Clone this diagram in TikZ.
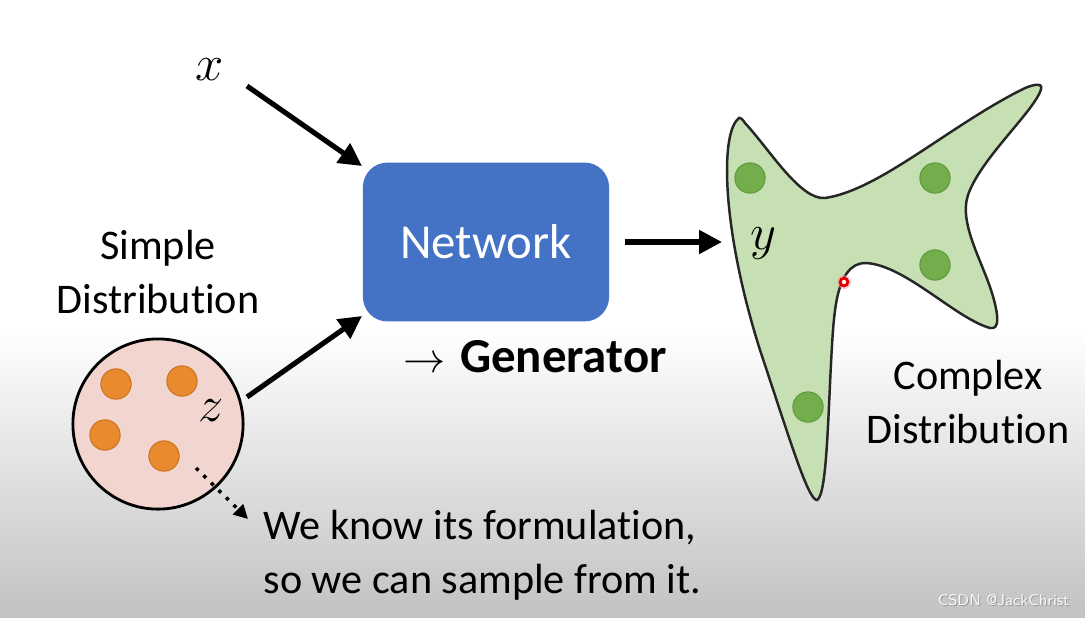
\documentclass[tikz,border=0pt]{standalone}
\usepackage{fontspec}
\setmainfont{Carlito}[Ligatures=NoCommon]
\usetikzlibrary{arrows.meta}
\definecolor{netblue}{HTML}{4472C4}
\definecolor{pinkfill}{HTML}{F2D5CF}
\definecolor{orangedot}{HTML}{E98A2E}
\definecolor{orangeedge}{HTML}{C9731F}
\definecolor{greenfill}{HTML}{C6E0B4}
\definecolor{greendot}{HTML}{74AD4C}
\definecolor{greenedge}{HTML}{5E9A3C}
\definecolor{bggray}{HTML}{C2C2C2}
\begin{document}
\begin{tikzpicture}[x=0.01cm,y=-0.01cm,
  bigarrow/.style={line width=1.45pt,-{Triangle[length=6.5pt,width=6.5pt]}},
  lbl/.style={font=\fontsize{12}{14}\selectfont,align=center,inner sep=0pt},
  odot/.style={circle,fill=orangedot,draw=orangeedge,line width=0.3pt,minimum size=8.6pt,inner sep=0pt},
  gdot/.style={circle,fill=greendot,draw=greenedge,line width=0.3pt,minimum size=8.6pt,inner sep=0pt},
  mlbl/.style={font=\fontsize{14}{16}\selectfont,inner sep=0pt}]
% background
\fill[white] (0,0) rectangle (1085,330);
\shade[top color=white,bottom color=bggray] (0,329) rectangle (1085,617);
\useasboundingbox (0,0) rectangle (1085,617);

% network
\node[draw=none,fill=netblue,rounded corners=7pt,minimum width=70pt,minimum height=45.2pt,
  text=white,font=\fontsize{13.9}{16}\selectfont] (net) at (486,242) {Network};
\node[font=\fontsize{13.9}{16}\selectfont\bfseries,inner sep=0pt] (gen) at (535,357) {{\fontsize{12.5}{14}\selectfont$\rightarrow$}\hspace{4.2pt}Generator};

% simple distribution
\node[lbl] (simple) at (158,272) {Simple\\[1.5pt]Distribution};
\node[circle,draw=black,line width=0.8pt,fill=pinkfill,minimum size=48.4pt,inner sep=0pt] (zc) at (158,424) {};
\node[odot] (o1) at (116,384) {};
\node[odot] (o2) at (182,381) {};
\node[odot] (o3) at (105,435) {};
\node[odot] (o4) at (164,456) {};
\node[mlbl] (z) at (211,411) {$z$};
\node[mlbl] (x) at (210,70) {$x$};

% blob
\draw[fill=greenfill,draw=black!85,line width=0.7pt]
 (738,119) .. controls (720,135) and (722,230) .. (760,350)
 .. controls (790,440) and (808,500) .. (817,500)
 .. controls (828,495) and (828,400) .. (833,330)
 .. controls (835,305) and (838,285) .. (847,273)
 .. controls (852,266) and (858,263) .. (866,263)
 .. controls (905,265) and (955,318) .. (990,328)
 .. controls (1000,330) and (998,315) .. (994,300)
 .. controls (985,265) and (958,225) .. (968,195)
 .. controls (980,160) and (1030,115) .. (1040,92)
 .. controls (1045,82) and (1035,84) .. (1025,88)
 .. controls (950,125) and (880,190) .. (825,198)
 .. controls (800,200) and (770,150) .. (745,123)
 .. controls (741,117) and (739,117) .. (738,119) -- cycle;
\node[gdot] (g1) at (750,178) {};
\node[gdot] (g2) at (935,178) {};
\node[gdot] (g3) at (935,265) {};
\node[gdot] (g4) at (808,407) {};
\node[mlbl] (y) at (763,244) {$y$};
\fill[red!40,opacity=0.5] (844,282) circle[radius=7];
\node[circle,draw=red!90!black,fill=white,line width=0.8pt,minimum size=2.2pt,inner sep=0pt] (red) at (844,282) {};
\node[lbl] (complex) at (968,402) {Complex\\[1.5pt]Distribution};

% note
\node[lbl,align=left,anchor=west] (note) at (263,555) {We know its formulation,\\[1.5pt]so we can sample from it.};

% arrows
\coordinate (xs) at (247,86);
\coordinate (xe) at (362,166);
\coordinate (zs) at (247,397);
\coordinate (ze) at (362,316);
\coordinate (ns) at (625,242);
\coordinate (ne) at (722,242);
\coordinate (ds) at (196,468);
\coordinate (de) at (248,519);
\draw[bigarrow] (xs) -- (xe);
\draw[bigarrow] (zs) -- (ze);
\draw[bigarrow] (ns) -- (ne);
\draw[line width=1pt,dotted,-{Triangle[length=4pt,width=4pt]}] (ds) -- (de);

% watermark
\node[font=\sffamily\fontsize{4.4}{5}\selectfont,text=gray!80,inner sep=0pt] at (1004.5,601.5) {CSDN @JackChrist};
\node[font=\sffamily\fontsize{4.4}{5}\selectfont,text=white!95!gray,inner sep=0pt] (wm) at (1003.5,600.5) {CSDN @JackChrist};
\end{tikzpicture}
\end{document}
